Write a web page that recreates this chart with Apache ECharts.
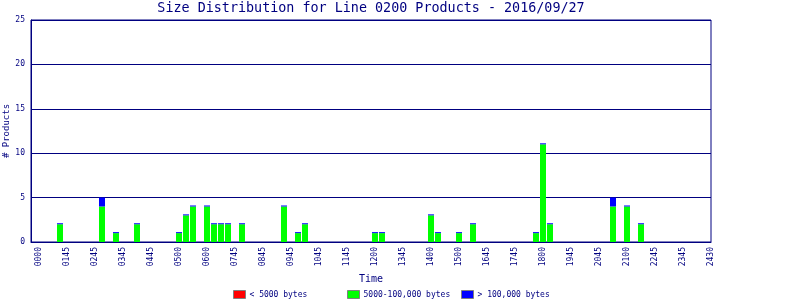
<!DOCTYPE html>
<html>
<head>
<meta charset="utf-8">
<script src="https://cdn.jsdelivr.net/npm/echarts@6/dist/echarts.min.js"></script>
<style>html,body{margin:0;padding:0;background:#fff}#c{width:800px;height:300px}</style>
</head>
<body>
<div id="c"></div>
<script>
// 15-minute bin index (0 = 0000) of each non-empty bin
var bins = [3, 9, 11, 14, 20, 21, 22, 24, 25, 26, 27, 29, 35, 37, 38, 48, 49, 56, 57, 60, 62, 71, 72, 73, 82, 84, 86];
var smallCounts = [0, 0, 0, 0, 0, 0, 0, 0, 0, 0, 0, 0, 0, 0, 0, 0, 0, 0, 0, 0, 0, 0, 0, 0, 0, 0, 0];
var mediumCounts = [2, 4, 1, 2, 1, 3, 4, 4, 2, 2, 2, 2, 4, 1, 2, 1, 1, 3, 1, 1, 2, 1, 11, 2, 4, 4, 2];
var largeCounts = [0, 1, 0, 0, 0, 0, 0, 0, 0, 0, 0, 0, 0, 0, 0, 0, 0, 0, 0, 0, 0, 0, 0, 0, 1, 0, 0];
var timeLabels = ['0000','0145','0245','0345','0445','0500','0600','0745','0845','0945','1045','1145','1200','1345','1400','1500','1645','1745','1800','1945','2045','2100','2245','2345','2430'];
var seriesNames = ['< 5000 bytes', '5000-100,000 bytes', '> 100,000 bytes'];
var titleText = 'Size Distribution for Line 0200 Products - 2016/09/27';

var NAVY = '#000080';
var FONT = 'DejaVu Sans Mono';
var NBINS = (timeLabels.length - 1) * 4 + 1;
var categories = [];
for (var i = 0; i < NBINS; i++) categories.push(String(i));
function full(vals) {
  var arr = categories.map(function () { return null; });
  bins.forEach(function (b, j) { arr[b] = vals[j]; });
  return arr;
}

var chart = echarts.init(document.getElementById('c'), null, { renderer: 'canvas' });
function legendFor(name, left) {
  return {
    data: [name], left: left, top: 290, itemWidth: 12, itemHeight: 8, itemGap: 4,
    icon: 'rect', selectedMode: false, padding: 0,
    itemStyle: { borderColor: '#808080', borderWidth: 1 },
    textStyle: { color: NAVY, fontFamily: FONT, fontSize: 8, padding: [0, 0, 0, -1] }
  };
}
chart.setOption({
  animation: false,
  backgroundColor: '#fff',
  graphic: [{
    type: 'text', x: 371, y: 2,
    style: { text: titleText, fill: NAVY, font: '13.4px "' + FONT + '"', textAlign: 'center', textVerticalAlign: 'top' }
  }],
  legend: [legendFor(seriesNames[0], 233), legendFor(seriesNames[1], 347), legendFor(seriesNames[2], 461)],
  grid: [
    { left: 31, right: 89, top: 20, bottom: 58, show: true, borderColor: NAVY, borderWidth: 1, containLabel: false, outerBoundsMode: 'none' },
    { left: 35.5, right: 85.5, top: 20, bottom: 58, show: false, containLabel: false, outerBoundsMode: 'none' }
  ],
  xAxis: [
    {
      gridIndex: 0, type: 'value', min: 0, max: 1, show: true,
      name: 'Time', nameLocation: 'middle', nameGap: 32, nameMoveOverlap: false,
      nameTextStyle: { color: NAVY, fontFamily: FONT, fontSize: 10 },
      axisLine: { show: true, onZero: false, lineStyle: { color: NAVY } },
      axisTick: { show: false }, axisLabel: { show: false }, splitLine: { show: false }
    },
    {
      gridIndex: 1, type: 'category', data: categories, boundaryGap: true,
      axisLine: { show: false }, axisTick: { show: false }, splitLine: { show: false },
      axisLabel: {
        interval: 3, rotate: 90, margin: 5, color: NAVY, fontFamily: FONT, fontSize: 8,
        formatter: function (v, idx) { return timeLabels[Math.round(idx / 4)]; }
      }
    }
  ],
  yAxis: [
    {
      gridIndex: 0, type: 'value', min: 0, max: 25, interval: 5,
      name: '# Products', nameLocation: 'middle', nameGap: 20, nameMoveOverlap: false,
      nameTextStyle: { color: NAVY, fontFamily: FONT, fontSize: 9 },
      axisLine: { show: true, onZero: false, lineStyle: { color: NAVY, width: 1 } },
      axisTick: { show: false },
      splitLine: { show: true, lineStyle: { color: NAVY, width: 1 } },
      axisLabel: { color: NAVY, fontFamily: FONT, fontSize: 8, margin: 6 }
    },
    {
      gridIndex: 1, type: 'value', min: 0, max: 25, interval: 5, show: false,
      splitLine: { show: false }
    }
  ],
  series: [
    { name: seriesNames[0], type: 'bar', xAxisIndex: 1, yAxisIndex: 1, stack: 'n', barWidth: 6, data: full(smallCounts), itemStyle: { color: '#ff0000' } },
    { name: seriesNames[1], type: 'bar', xAxisIndex: 1, yAxisIndex: 1, stack: 'n', barWidth: 6, data: full(mediumCounts), itemStyle: { color: '#00ff00' } },
    { name: seriesNames[2], type: 'bar', xAxisIndex: 1, yAxisIndex: 1, stack: 'n', barWidth: 6, barMinHeight: 1, data: full(largeCounts), itemStyle: { color: '#0000ff' } }
  ]
});
</script>
</body>
</html>
